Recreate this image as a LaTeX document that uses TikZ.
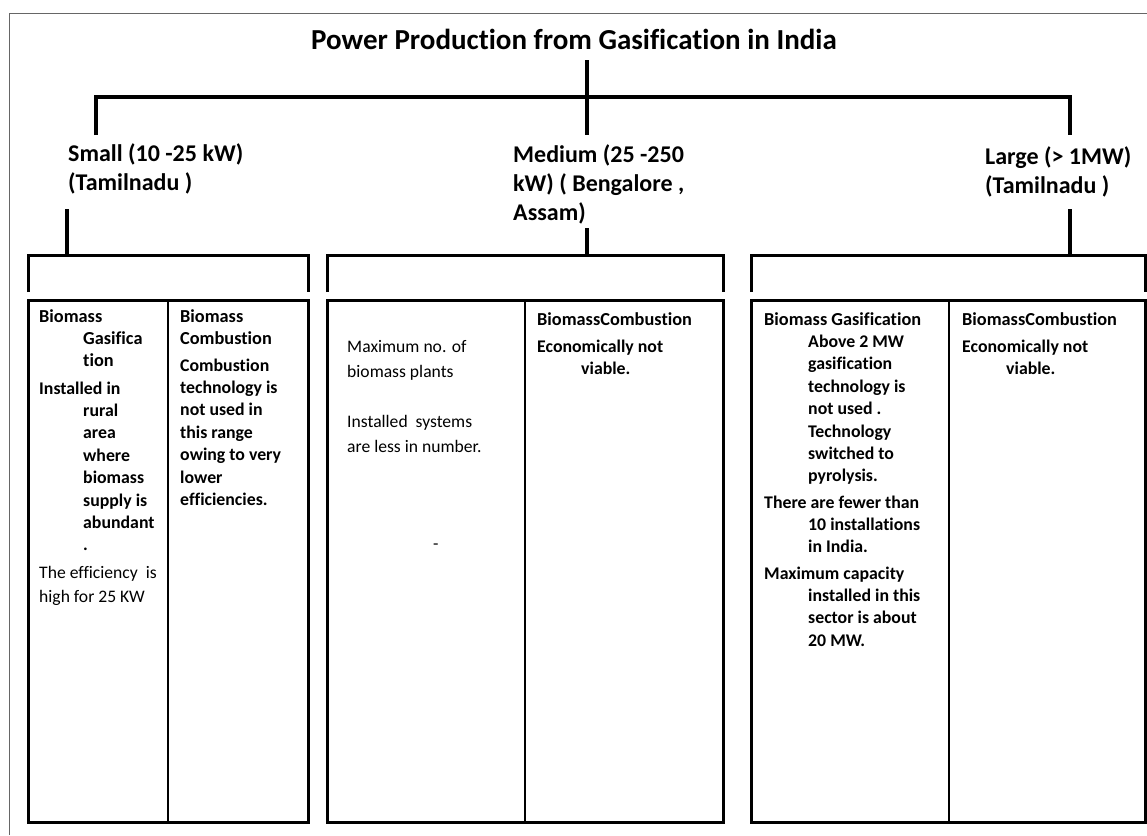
\documentclass[tikz,border=0pt]{standalone}
\usepackage{fontspec}
\setmainfont{Carlito}[Ligatures=NoCommon]
\usetikzlibrary{positioning}
\def\indentsep{44pt}
\newcommand{\indline}{\hspace*{\indentsep}}
\newcommand{\headfont}{\fontsize{18.3}{22.4}\selectfont\bfseries}
\newcommand{\bodyfont}{\fontsize{17.8}{22.4}\selectfont\bfseries}

\begin{document}
\begin{tikzpicture}[x=1pt,y=-1pt,line join=miter]
    \tikzstyle{frame}=[draw=black!60, line width=1pt]
    \tikzstyle{trunk}=[draw=black, line width=4pt]
    \tikzstyle{bracket}=[draw=black, line width=3pt]
    \tikzstyle{panel}=[draw=black, line width=3pt, inner sep=0pt, outer sep=0pt, anchor=north west]
    \tikzstyle{divider}=[draw=black, line width=1.3pt]
    \tikzstyle{heading}=[font=\fontsize{29}{34}\selectfont\bfseries, inner sep=0pt, anchor=base]
    \tikzstyle{sizelabel}=[font=\fontsize{24}{29}\selectfont\bfseries, align=flush left, inner sep=0pt, anchor=base west, text width=240pt]
    \tikzstyle{cell}=[font=\bodyfont, align=flush left, inner sep=0pt, anchor=base west, text width=170pt]
    \tikzstyle{head}=[cell, font=\headfont]
    \tikzstyle{note}=[cell, font=\fontsize{17.6}{25.5}\selectfont\mdseries]

    \useasboundingbox (0,0) rectangle (1147,835);
    \draw[frame] (9,835) |- (1147,13);

    % Draw the title and the three ranges
    \node[heading] (title) at (574,49) {Power Production from Gasification in India};
    \node[sizelabel] (small) at (68,161) {Small (10 -25 kW)\\(Tamilnadu )};
    \node[sizelabel] (medium) at (513,162) {Medium (25 -250\\kW) ( Bengalore ,\\Assam)};
    \node[sizelabel] (large) at (985,164) {Large (> 1MW)\\(Tamilnadu )};

    % Tree lines
    \coordinate (root) at (587,60);
    \foreach \x/\n in {96/1,587/2,1070/3}
        \coordinate (down-\n) at (\x,135);
    \draw[trunk] (root) -- (down-2);
    \draw[trunk] (down-1) |- (down-3 |- 0,97) -- (down-3);

    \foreach \x/\n/\y in {67/1/209,587/2/228,1070/3/209}{
        \coordinate (from-\n) at (\x,\y);
        \coordinate (to-\n) at (\x,255);
        \draw[trunk] (from-\n) -- (to-\n);
    }

    % Draw the panels
    \foreach \n/\l/\r/\m in {1/28/308/168, 2/327/723/525, 3/751/1145/949}{
        \draw[bracket] (\l,292) |- (\r,255) -- (\r,292);
        \node[panel, minimum width={\r-\l}, minimum height=522] (panel-\n) at (\l,300) {};
        \draw[divider] (\m,300) -- (\m,822);
    }

    % Small
    \node[head] (gas-1) at (39,322) {Biomass\\\indline Gasifica\\\indline tion};
    \node[cell] (gas-1-a) at (39,394) {Installed in\\\indline rural\\\indline area\\\indline where\\\indline biomass\\\indline supply is\\\indline abundant\\\indline .};
    \node[note, text width=140pt, font=\fontsize{17.6}{24}\selectfont] (gas-1-b) at (39,578) {The efficiency\ \ is\\high for 25 KW};
    \node[head] (comb-1) at (180,322) {Biomass\\Combustion};
    \node[cell] (comb-1-a) at (180,371) {Combustion\\technology is\\not used in\\this range\\owing to very\\lower\\efficiencies.};

    % Medium
    \node[note] (gas-2) at (347,352) {Maximum no. of\\biomass plants};
    \node[note] (gas-2-a) at (347,427) {Installed\ \ systems\\are less in number.};
    \node[note] (gas-2-b) at (433,549) {-};
    \node[head] (comb-2) at (537,325) {BiomassCombustion};
    \node[cell] (comb-2-a) at (537,352) {Economically not\\\indline viable.};

    % Large
    \node[cell] (gas-3) at (764,325) {{\headfont Biomass Gasification}\\\indline Above 2 MW\\\indline gasification\\\indline technology is\\\indline not used .\\\indline Technology\\\indline switched to\\\indline pyrolysis.};
    \node[cell] (gas-3-a) at (764,508) {There are fewer than\\\indline 10 installations\\\indline in India.};
    \node[cell] (gas-3-b) at (764,579) {Maximum capacity\\\indline installed in this\\\indline sector is about\\\indline 20 MW.};
    \node[head] (comb-3) at (962,325) {BiomassCombustion};
    \node[cell] (comb-3-a) at (962,352) {Economically not\\\indline viable.};
\end{tikzpicture}
\end{document}
